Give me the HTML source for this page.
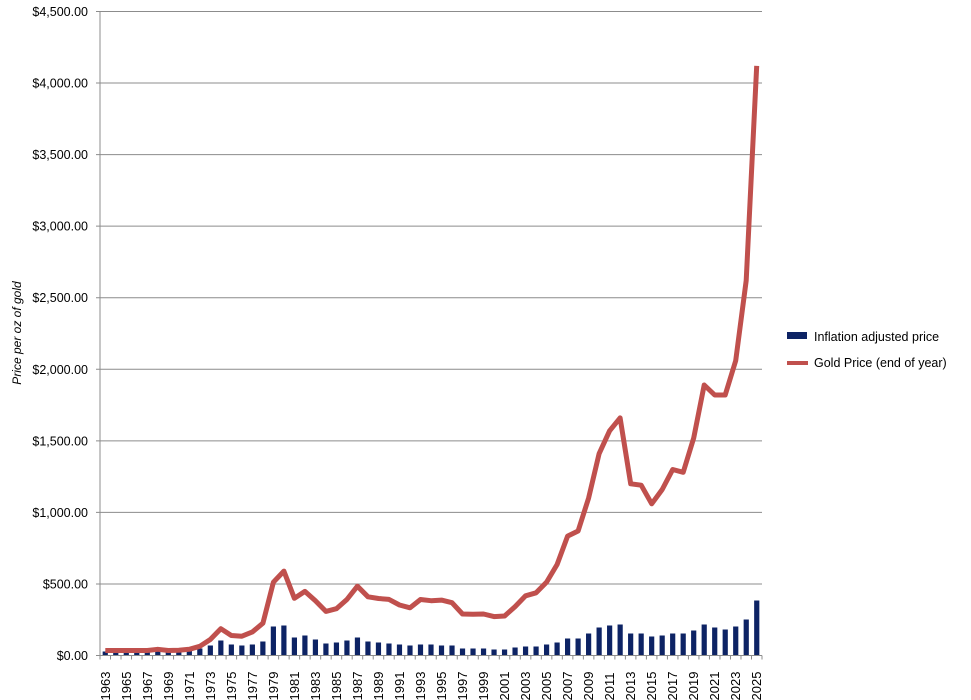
<!DOCTYPE html>
<html><head><meta charset="utf-8"><style>
html,body{margin:0;padding:0;background:#fff;}
svg{display:block;font-family:"Liberation Sans",sans-serif;}
</style></head><body>
<svg id="c" width="971" height="700" xmlns="http://www.w3.org/2000/svg"></svg>
<script>
const s=document.getElementById('c');
let h='';
const L=100,R=762,T=11.5,B=655.5;
const ys=v=>B-v*(B-T)/4500;
for(let i=0;i<=9;i++){const y=ys(i*500);
 h+=`<line x1="96" x2="${R}" y1="${y}" y2="${y}" stroke="#8c8c8c" stroke-width="1"/>`;
 h+=`<text x="88" y="${y+4.5}" font-size="12.5" text-anchor="end" fill="#000">$${(i*500).toLocaleString('en-US')}.00</text>`;}
h+=`<line x1="${L}" x2="${L}" y1="${T}" y2="${B}" stroke="#8c8c8c"/>`;
const bars=[4,4,4,4,4,4,4,4,5,7,10,15,11,10,11,14,29,30,18,20,16,12,13,15,18,14,13,12,11,10,11,11,10,10,7,7,7,6,6,8,9,9,11,13,17,17,22,28,30,31,22,22,19,20,22,22,25,31,28,26,29,36,55];
const gold=[35,35,35,35,35,43,35,37,43,64,112,187,140,135,165,226,512,590,400,448,382,308,327,391,484,410,398,392,353,333,391,383,387,369,290,288,290,272,276,342,417,438,513,636,834,870,1100,1410,1570,1660,1200,1190,1060,1160,1300,1280,1520,1890,1820,1820,2060,2620,4120];
const w=(R-L)/63;
bars.forEach((b,i)=>{const cx=L+w*(i+0.5);h+=`<rect x="${cx-2.6}" y="${B-b}" width="5.2" height="${b}" fill="#0d2364"/>`;});
h+=`<polyline fill="none" stroke="#c0504d" stroke-width="5" stroke-linejoin="round" points="${gold.map((g,i)=>(L+w*(i+0.5)).toFixed(1)+','+ys(g).toFixed(1)).join(' ')}"/>`;
for(let i=0;i<=63;i++){const x=L+w*i;h+=`<line x1="${x}" x2="${x}" y1="${B}" y2="${B+4}" stroke="#8c8c8c"/>`;}
h+=`<line x1="${L}" x2="${R}" y1="${B}" y2="${B}" stroke="#8c8c8c"/>`;
for(let i=0;i<63;i+=2){const cx=L+w*(i+0.5)+4.5;h+=`<text transform="translate(${cx},${B+45}) rotate(-90)" font-size="13" fill="#000">${1963+i}</text>`;}
h+=`<text transform="translate(21,333) rotate(-90)" font-size="12" font-style="italic" text-anchor="middle">Price per oz of gold</text>`;
h+=`<rect x="787" y="332" width="20" height="7" fill="#0d2364"/><text x="814" y="341" font-size="12.5">Inflation adjusted price</text>`;
h+=`<line x1="787" x2="808" y1="363" y2="363" stroke="#c0504d" stroke-width="4"/><text x="814" y="367" font-size="12.5">Gold Price (end of year)</text>`;
s.innerHTML=h;
</script>
</body></html>
